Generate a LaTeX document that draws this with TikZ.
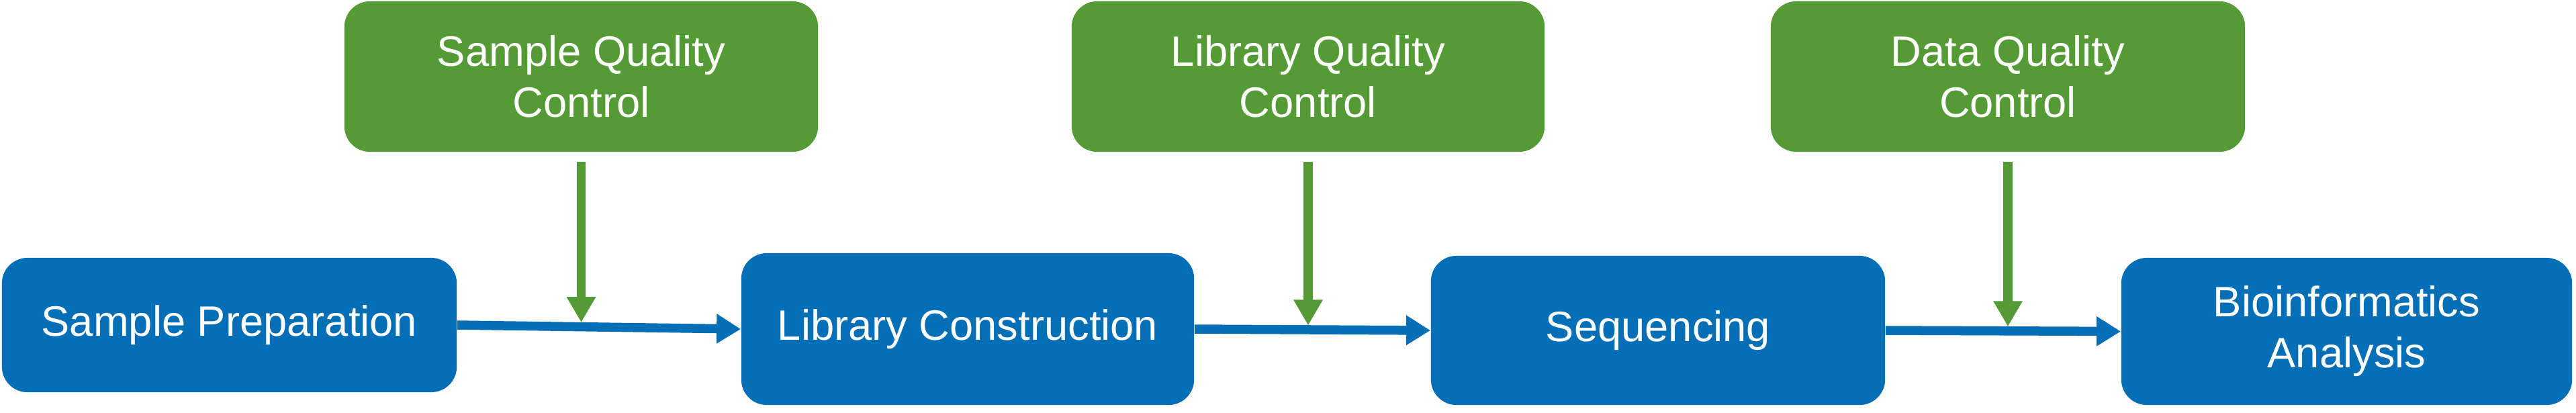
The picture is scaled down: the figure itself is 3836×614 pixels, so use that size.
\documentclass[tikz,border=0pt]{standalone}
\usepackage{fontspec}
\setmainfont{Liberation Sans}
\usetikzlibrary{arrows.meta,calc}
\definecolor{stepblue}{RGB}{4,110,182}
\definecolor{qcgreen}{RGB}{85,155,53}
\begin{document}
\begin{tikzpicture}[x=0.01cm,y=-0.01cm,
  box/.style={rectangle,rounded corners=0.38cm,inner sep=0pt,align=center,
    text=white,font=\fontsize{18}{21.6}\selectfont},
  bluebox/.style={box,fill=stepblue},
  greenbox/.style={box,fill=qcgreen,minimum height=2.24cm},
  barrow/.style={draw=stepblue,line width=0.135cm,
    -{Triangle[length=0.36cm,width=0.42cm]}},
  garrow/.style={draw=qcgreen,line width=0.135cm,shorten >=0.065cm,
    -{Triangle[length=0.38cm,width=0.41cm]}}]
\useasboundingbox (0,0) rectangle (3836,614);
% process steps
\node[bluebox,minimum width=6.77cm,minimum height=2.00cm] (b1) at (341.5,484) {Sample Preparation};
\node[bluebox,minimum width=6.74cm,minimum height=2.26cm] (b2) at (1441,490) {Library Construction};
\node[bluebox,minimum width=6.76cm,minimum height=2.22cm] (b3) at (2469,492) {Sequencing};
\node[bluebox,minimum width=6.71cm,minimum height=2.19cm] (b4) at (3494.5,493.5) {Bioinformatics\\Analysis};
% quality control
\node[greenbox,minimum width=7.05cm] (g1) at (865.5,114) {Sample Quality\\Control};
\node[greenbox,minimum width=7.04cm] (g2) at (1948,114) {Library Quality\\Control};
\node[greenbox,minimum width=7.06cm] (g3) at (2990,114) {Data Quality\\Control};
% main flow
\draw[barrow] (b1.east) -- (b2.west);
\draw[barrow] (b2.east) -- (b3.west);
\draw[barrow] (b3.east) -- (b4.west);
% QC arrows
\coordinate (m1) at ($(b1.east)!(g1.south)!(b2.west)$);
\coordinate (m2) at ($(b2.east)!(g2.south)!(b3.west)$);
\coordinate (m3) at ($(b3.east)!(g3.south)!(b4.west)$);
\draw[garrow] ([yshift=-0.14cm]g1.south) -- (g1.south |- m1);
\draw[garrow] ([yshift=-0.14cm]g2.south) -- (g2.south |- m2);
\draw[garrow] ([yshift=-0.14cm]g3.south) -- (g3.south |- m3);
\end{tikzpicture}
\end{document}
